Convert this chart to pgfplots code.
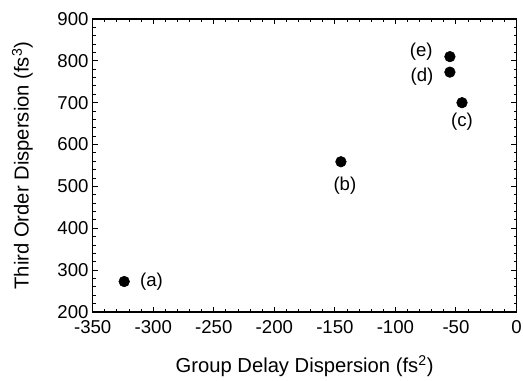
\documentclass[border=0pt]{standalone}
\usepackage{pgfplots}
\pgfplotsset{compat=1.18}
\usepackage{fontspec}
\setmainfont{Liberation Sans}
\newcommand\tf{\fontsize{14}{16}\selectfont}
\newcommand\lf{\fontsize{15.2}{17}\selectfont}
\begin{document}
\begin{tikzpicture}
\begin{axis}[
  name=ax,
  scale only axis,
  width=318.75pt, height=220.5pt,
  xmin=-350, xmax=0, ymin=200, ymax=900,
  xtick={-350,-300,...,0}, ytick={200,300,...,900},
  minor x tick num=4, minor y tick num=4,
  tick align=inside,
  major tick length=4pt, minor tick length=2.2pt,
  tick style={black, line width=0.7pt},
  axis line style={line width=1pt},
  /pgf/number format/assume math mode=true,
  /pgf/number format/set thousands separator={},
  ticklabel style={font=\tf},
  xticklabel style={yshift=-5.5pt, inner sep=1pt},
  yticklabel style={xshift=-2pt, inner sep=1pt},
  label style={font=\lf},
  xlabel={Group Delay Dispersion (fs\textsuperscript{2})},
  ylabel={Third Order Dispersion (fs\textsuperscript{3})},
  xlabel style={at={(axis description cs:0.5,-0.184)}, anchor=center},
  ylabel style={at={(axis description cs:-0.166,0.5)}, anchor=center},
  clip=false,
  every node near coord/.append style={font=\tf, anchor=center, text=black},
]
\addplot[only marks, mark=*, mark size=4pt, black,
  nodes near coords={(a)}, every node near coord/.append style={xshift=20.5pt, yshift=0pt}]
  coordinates {(-324,273)};
\addplot[only marks, mark=*, mark size=4pt, black,
  nodes near coords={(b)}, every node near coord/.append style={xshift=3pt, yshift=-18.3pt}]
  coordinates {(-145,559)};
\addplot[only marks, mark=*, mark size=4pt, black,
  nodes near coords={(c)}, every node near coord/.append style={xshift=0pt, yshift=-14pt}]
  coordinates {(-45,700)};
\addplot[only marks, mark=*, mark size=4pt, black,
  nodes near coords={(d)}, every node near coord/.append style={xshift=-21pt, yshift=-3.3pt}]
  coordinates {(-55,773)};
\addplot[only marks, mark=*, mark size=4pt, black,
  nodes near coords={(e)}, every node near coord/.append style={xshift=-21.5pt, yshift=3.7pt}]
  coordinates {(-55,810)};
\end{axis}
\path[use as bounding box] ([shift={(-69.75pt,-48pt)}]ax.south west) rectangle ([shift={(3.75pt,14.25pt)}]ax.north east);
\end{tikzpicture}
\end{document}
